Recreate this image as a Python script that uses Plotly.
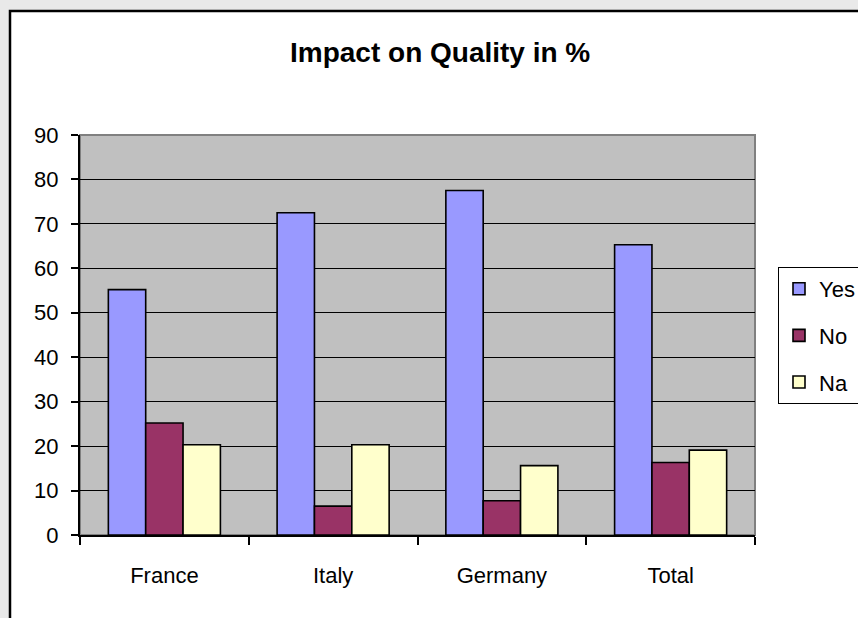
import plotly.graph_objects as go

categories = ["France", "Italy", "Germany", "Total"]
yes_values = [55.2, 72.5, 77.5, 65.3]
no_values = [25.2, 6.5, 7.7, 16.3]
na_values = [20.3, 20.3, 15.6, 19.1]
y_ticks = [0, 10, 20, 30, 40, 50, 60, 70, 80, 90]

W, H = 858, 618
L, R, T, B = 80, 755, 135, 535  # plot area in pixels


def px(x):
    return (x - L) / (R - L)


def py(y):
    return (B - y) / (B - T)


FONT = "Liberation Sans, Arial, sans-serif"

fig = go.Figure()
series = [("Yes", yes_values, "#9999FF"), ("No", no_values, "#993366"), ("Na", na_values, "#FFFFCC")]
for name, vals, col in series:
    fig.add_trace(go.Bar(
        name=name, x=categories, y=vals, legendgroup=name,
        marker=dict(color=col, line=dict(color="black", width=1.6)),
    ))

fig.update_layout(
    width=W, height=H,
    margin=dict(l=L, r=W - R, t=T, b=H - B, autoexpand=False),
    paper_bgcolor="#e9e9e9",
    plot_bgcolor="rgba(0,0,0,0)",
    barmode="group", bargap=0.336, bargroupgap=0,
    font=dict(family=FONT, size=22, color="black"),
    showlegend=True,
    legend=dict(
        x=px(778), y=py(267), xanchor="left", yanchor="top",
        bgcolor="white", bordercolor="black", borderwidth=1,
        font=dict(size=22), tracegroupgap=15, itemwidth=30,
    ),
    shapes=[
        dict(type="rect", xref="paper", yref="paper", layer="below",
             x0=px(10), x1=px(880), y0=py(640), y1=py(11),
             fillcolor="white", line=dict(color="black", width=2.5)),
        dict(type="rect", xref="paper", yref="paper", layer="below",
             x0=0, x1=1, y0=0, y1=1,
             fillcolor="#c0c0c0", line=dict(color="#808080", width=2)),
    ],
    annotations=[
        dict(text="<b>Impact on Quality in %</b>", xref="paper", yref="paper",
             x=px(440), y=py(53), xanchor="center", yanchor="middle",
             showarrow=False, font=dict(size=28, family=FONT)),
    ],
)

fig.update_yaxes(
    range=[0, 90], tickvals=y_ticks, showgrid=True, gridcolor="black", gridwidth=1.3,
    showline=True, linecolor="black", linewidth=2, ticks="outside", ticklen=7,
    tickcolor="black", tickwidth=2, zeroline=False, ticklabelstandoff=8,
)
fig.update_xaxes(
    showline=True, linecolor="black", linewidth=2, ticks="outside", ticklen=8,
    tickcolor="black", tickwidth=2, tickson="boundaries", showgrid=False,
    ticklabelstandoff=20,
)

fig.write_html(
    "out.html",
    config={"displayModeBar": False},
    post_script="document.body.style.margin='0';document.body.style.background='#e9e9e9';",
)
